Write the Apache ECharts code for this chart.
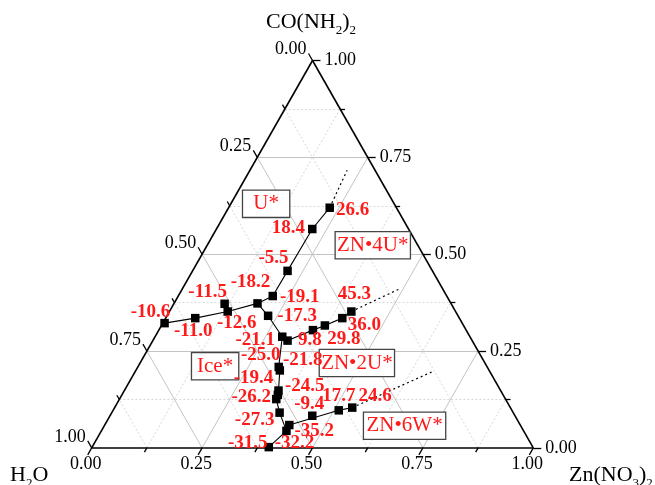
<!DOCTYPE html>
<html><head><meta charset="utf-8">
<script src="https://cdn.jsdelivr.net/npm/echarts/dist/echarts.min.js"></script>
<style>html,body{margin:0;padding:0;background:#fff}#c{width:655px;height:485px}</style>
</head><body><div id="c"></div>
<script>
// ---------- DATA (mass fractions) ----------
const tickValues = [0, 0.25, 0.5, 0.75, 1];
const tickLabels = ['0.00', '0.25', '0.50', '0.75', '1.00'];
const minorTickValues = [0.125, 0.375, 0.625, 0.875];

const tempLabels = ['-10.6','-11.0','-12.6','-11.5','-18.2','-19.1','-5.5','18.4','26.6','-17.3','-21.1','','9.8','29.8','36.0','45.3','-25.0','-21.8','-19.4','-24.5','-26.2','-27.3','-35.2','-32.2','-31.5','-9.4','17.7','24.6'];
const znFraction   = [0.004,0.067,0.132,0.115,0.189,0.214,0.215,0.217,0.229,0.229,0.288,0.305,0.349,0.370,0.400,0.412,0.319,0.326,0.349,0.353,0.355,0.380,0.418,0.419,0.400,0.458,0.511,0.538];
const ureaFraction = [0.322,0.335,0.352,0.372,0.373,0.392,0.457,0.565,0.620,0.341,0.287,0.277,0.304,0.316,0.335,0.352,0.209,0.200,0.148,0.137,0.126,0.091,0.059,0.044,0.002,0.083,0.097,0.104];

// solid boundary curves (indices into the point arrays)
const solidCurves = [
  [0, 1, 2, 4],
  [4, 5, 6, 7, 8],
  [4, 9, 10, 16, 17, 18, 19, 20, 21, 23, 24],
  [10, 11, 12, 13, 14, 15],
  [22, 26, 27]
];
// dotted (metastable) extensions
const extFrom = [8, 15, 27];
const extZn   = [0.220, 0.490, 0.675];
const extUrea = [0.717, 0.409, 0.198];

const regionNames = ['U*', 'ZN\u20224U*', 'Ice*', 'ZN\u20222U*', 'ZN\u20226W*'];
const regionZn    = [0.080, 0.375, 0.174, 0.491, 0.680];
const regionUrea  = [0.630, 0.523, 0.211, 0.219, 0.057];

// ---------- LAYOUT / STYLE ----------
const labelOffsets = [[-14,-11],[-2,13],[9,12],[-17,-12],[-7,-21],[27,1],[-14,-13],[-24,-1],[23,2],[29,0],[-27,3],[0,0],[-3,10],[19,14],[22,7],[3,-17],[-18,-12],[23,-10],[-25,-12],[27,-9],[-25,-2],[-25,7],[25,6],[8,12],[-21,-4],[-3,-12],[0,-14],[23,-12]];
const regionBoxWidths = [40, 68, 40, 68, 75];
const SERIF = "'Liberation Serif','Times New Roman',serif";
const RED = '#ff1a1a';

// ternary (Zn, urea) -> cartesian (x, y) in the value axes
function P(b, c) { return [b + c / 2, c]; }

// grid lines
const majorGrid = [], minorGrid = [];
[0.125,0.25,0.375,0.5,0.625,0.75,0.875].forEach(v => {
  const target = (Math.round(v * 8) % 2 === 0) ? majorGrid : minorGrid;
  target.push({coords: [P(0, v), P(1 - v, v)]});      // const urea
  target.push({coords: [P(v, 0), P(v, 1 - v)]});      // const Zn
  target.push({coords: [P(1 - v, 0), P(0, 1 - v)]}); // const water
});
const edges = [
  {coords: [P(0, 0), P(1, 0)]},
  {coords: [P(1, 0), P(0, 1)]},
  {coords: [P(0, 1), P(0, 0)]}
];
const TM = 0.018, Tm = 0.011;
const ticks = [];
function addTicks(vals, t) {
  vals.forEach(v => {
    ticks.push({coords: [[v, 0], [v - 0.5 * t, -t]]});              // bottom: Zn
    ticks.push({coords: [[1 - v / 2, v], [1 - v / 2 + t, v]]});      // right: urea
    const c = 1 - v;                                                  // left: water
    ticks.push({coords: [[c / 2, c], [c / 2 - 0.5 * t, c + t]]});
  });
}
addTicks(tickValues, TM);
addTicks(minorTickValues, Tm);

const bottomLabels = tickValues.map((v, i) => ({value: [v - 0.5 * TM, -TM], name: tickLabels[i]}));
const rightLabels = tickValues.map((v, i) => ({value: [1 - v / 2 + TM, v], name: tickLabels[i]}));
const leftLabels = tickValues.map((v, i) => { const c = 1 - v; return {value: [c / 2 - 0.5 * TM, c + TM], name: tickLabels[i]}; });

const tickLabelStyle = {show: true, formatter: '{b}', color: '#000', fontSize: 18, fontFamily: SERIF, opacity: 1};

const lineBase = {type: 'line', symbol: 'none', silent: true, clip: false, animation: false,
  lineStyle: {color: '#000', width: 1.1, opacity: 1}, z: 5};

const series = [
  {type: 'lines', coordinateSystem: 'cartesian2d', polyline: false, silent: true, clip: false, animation: false,
   data: minorGrid, lineStyle: {color: '#d8d8d8', width: 1, type: [2, 2], opacity: 1}, z: 1},
  {type: 'lines', coordinateSystem: 'cartesian2d', polyline: false, silent: true, clip: false, animation: false,
   data: majorGrid, lineStyle: {color: '#c4c4c4', width: 1, opacity: 1}, z: 2},
  {type: 'lines', coordinateSystem: 'cartesian2d', polyline: false, silent: true, clip: false, animation: false,
   data: edges, lineStyle: {color: '#000', width: 1.6, opacity: 1}, z: 3},
  {type: 'lines', coordinateSystem: 'cartesian2d', polyline: false, silent: true, clip: false, animation: false,
   data: ticks, lineStyle: {color: '#000', width: 1.3, opacity: 1}, z: 3},
  {type: 'scatter', symbolSize: 0, silent: true, clip: false, animation: false, data: bottomLabels,
   itemStyle: {opacity: 1},
   label: Object.assign({}, tickLabelStyle, {position: 'bottom', distance: 0, offset: [-2, 0]})},
  {type: 'scatter', symbolSize: 0, silent: true, clip: false, animation: false, data: rightLabels,
   itemStyle: {opacity: 1},
   label: Object.assign({}, tickLabelStyle, {position: 'right', distance: 4})},
  {type: 'scatter', symbolSize: 0, silent: true, clip: false, animation: false, data: leftLabels,
   itemStyle: {opacity: 1},
   label: Object.assign({}, tickLabelStyle, {position: 'left', distance: 2, offset: [0, -4]})}
];

solidCurves.forEach(idx => {
  series.push(Object.assign({}, lineBase, {data: idx.map(i => P(znFraction[i], ureaFraction[i]))}));
});
extFrom.forEach((i, k) => {
  series.push(Object.assign({}, lineBase, {
    data: [P(znFraction[i], ureaFraction[i]), P(extZn[k], extUrea[k])],
    lineStyle: {color: '#000', width: 1.2, type: [2, 3], opacity: 1}
  }));
});

series.push({
  type: 'scatter', symbol: 'rect', symbolSize: 8.5, silent: true, clip: false, animation: false, z: 10,
  itemStyle: {color: '#000', opacity: 1},
  data: znFraction.map((b, i) => ({
    value: P(b, ureaFraction[i]), name: tempLabels[i],
    label: {show: tempLabels[i] !== '', offset: labelOffsets[i]}
  })),
  label: {show: true, position: 'inside', formatter: '{b}', color: RED, fontWeight: 'bold',
    fontSize: 19, fontFamily: SERIF, opacity: 1}
});

series.push({
  type: 'scatter', symbolSize: 0, silent: true, clip: false, animation: false, z: 8,
  itemStyle: {opacity: 1},
  data: regionNames.map((n, i) => ({value: P(regionZn[i], regionUrea[i]), name: n,
    label: {width: regionBoxWidths[i]}})),
  label: {show: true, position: 'inside', formatter: '{b}', color: RED, fontSize: 21, fontFamily: SERIF,
    align: 'center', backgroundColor: '#fff', borderColor: '#444', borderWidth: 1.3, opacity: 1,
    padding: [3, 3, 1, 3], lineHeight: 22}
});

const titleRich = {a: {fontSize: 22, fontFamily: SERIF, fill: '#000', lineHeight: 30},
                   s: {fontSize: 13, fontFamily: SERIF, fill: '#000', verticalAlign: 'bottom', lineHeight: 17}};

const chart = echarts.init(document.getElementById('c'), null, {renderer: 'canvas'});
chart.setOption({
  animation: false,
  backgroundColor: '#fff',
  grid: {left: 91.7, top: 60.5, width: 441.6, height: 387.4, containLabel: false},
  xAxis: {type: 'value', min: 0, max: 1, show: false},
  yAxis: {type: 'value', min: 0, max: 1, show: false},
  series: series,
  graphic: [
    {type: 'text', x: 311, y: 22, z: 20, style: {
      text: '{a|CO(NH}{s|2}{a|)}{s|2}', align: 'center', verticalAlign: 'middle', rich: titleRich}},
    {type: 'text', x: 10, y: 475, z: 20, style: {
      text: '{a|H}{s|2}{a|O}', align: 'left', verticalAlign: 'middle', rich: titleRich}},
    {type: 'text', x: 569, y: 475, z: 20, style: {
      text: '{a|Zn(NO}{s|3}{a|)}{s|2}', align: 'left', verticalAlign: 'middle', rich: titleRich}}
  ]
});
</script></body></html>
